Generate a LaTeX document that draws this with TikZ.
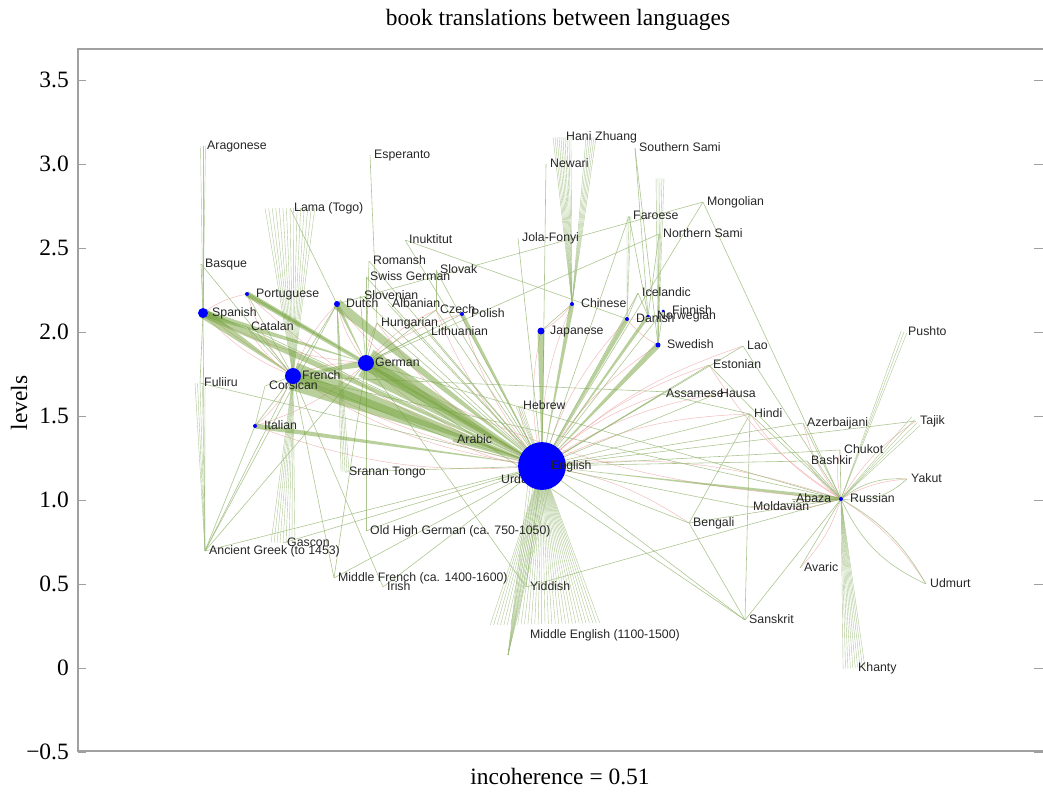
\documentclass[tikz,border=0pt]{standalone}
\usepackage{fontspec}
\setmainfont{Liberation Serif}
\setsansfont{Liberation Sans}
\usetikzlibrary{calc}

\definecolor{LinkGreen}{HTML}{9DBB7C}
\definecolor{BandGreen}{HTML}{74A23C}
\definecolor{BackPink}{HTML}{EFA8A8}
\definecolor{FrameGray}{HTML}{A0A0A0}

\pgfdeclarelayer{edges}
\pgfsetlayers{edges,main}

\tikzset{
	hub/.style={circle, fill=blue, inner sep=0pt, minimum size=#1*0.85pt},
	leaf/.style={circle, inner sep=0pt, minimum size=0pt},
	lbl/.style={anchor=west, inner sep=0pt, text height=7.6pt, text depth=2pt,
		text=black!85, font=\sffamily\fontsize{10.5}{12}\selectfont},
	axlbl/.style={font=\fontsize{20}{22}\selectfont},
	frame/.style={draw=FrameGray, line width=1.4pt},
	link/.style={draw=LinkGreen, line width=0.5pt, opacity=0.85},
	back/.style={draw=BackPink, line width=0.4pt, opacity=0.8},
	fanline/.style={draw=LinkGreen, line width=0.35pt, opacity=0.8},
	band/.style={fill=BandGreen, fill opacity=0.5}
}

% wedge from #1 (half width #3) to the point #2
\newcommand{\tband}[3]{%
	\fill[band] ($(#1)!#3!90:(#2)$) -- ($(#1)!#3!-90:(#2)$) -- (#2.center) -- cycle;}
% bundle of #4 lines, spread #3 (px) at #1, meeting at #2
\newcommand{\tfan}[4]{%
	\foreach \k in {0,...,#4}{%
		\pgfmathsetmacro{\off}{(\k/#4-0.5)*#3*0.85}%
		\draw[fanline] ($(#1)!\off pt!90:(#2)$) -- (#2.center);}}

\begin{document}
\begin{tikzpicture}[x=0.03cm, y=-0.03cm]
	\useasboundingbox (0,0) rectangle (1043,793);
	
	% --- axes
	\draw[frame] (1043,49) -- (78,49) -- (78,751) -- (1043,751);
	\foreach \v/\t [count=\i] in {3.5/3.5, 3.0/3.0, 2.5/2.5, 2.0/2.0, 1.5/1.5, 1.0/1.0, 0.5/0.5, 0/0, -0.5/−0.5}{
		\draw[frame, line width=0.8pt] (78,668-168*\v) -- (86,668-168*\v);
		\draw[frame, line width=0.8pt] (1034,668-168*\v) -- (1043,668-168*\v);
		\node[axlbl, anchor=east, inner sep=0pt] (tick\i) at (69,668-168*\v) {\t};
	}
	\node[axlbl] (title) at (558,20) {book translations between languages};
	\node[axlbl, rotate=90] (ylab) at (19,403) {levels};
	\node[axlbl] (xlab) at (560,777) {incoherence = 0.51};
	
	% --- languages with a dot
	\foreach \n/\x/\y/\d/\t in {
		eng/542/466/48/English, fre/293/376/16/French, ger/366/363/16/German,
		spa/203/313/10/Spanish, por/247/294/4/Portuguese, dut/337/304/6/Dutch,
		ita/255/426/4/Italian, jap/541/331/7/Japanese, chi/572/304/4/Chinese,
		dan/627/319/4/Danish, nor/648/316/3/Norwegian, fin/663/311/3/Finnish,
		swe/658/345/5/Swedish, rus/841/499/4/Russian, pol/462/314/4/Polish}{
		\node[leaf] (\n) at (\x,\y) {};
	}
	
	% --- languages without a dot
	\foreach \n/\x/\y/\t in {
		arag/203/146/Aragonese, espe/370/155/Esperanto, lama/290/208/{Lama (Togo)},
		inuk/405/240/Inuktitut, basq/201/264/Basque, roma/369/261/Romansh,
		slok/436/270/Slovak, swg/366/277/{Swiss German}, slov/360/296/Slovenian,
		alb/388/304/Albanian, cze/436/310/Czech, cat/247/327/Catalan,
		hun/377/323/Hungarian, lit/427/332/Lithuanian, cor/265/386/Corsican,
		ful/200/383/Fuliiru, heb/519/406/Hebrew, ara/453/440/Arabic,
		urd/497/480/Urdu, sra/345/472/{Sranan Tongo},
		ohg/366/531/{Old High German (ca. 750-1050)}, agr/205/551/{Ancient Greek (to 1453)},
		gas/283/543/Gascon, mfr/334/578/{Middle French (ca. 1400-1600)},
		iri/383/587/Irish, yid/526/587/Yiddish, meng/526/635/{Middle English (1100-1500)},
		hani/562/137/Hani, zhu/591/137/Zhuang, newa/546/164/Newari,
		ssami/635/148/{Southern Sami}, mong/703/202/Mongolian, faro/629/216/Faroese,
		nsami/659/234/{Northern Sami}, jola/518/238/Jola-Fonyi, ice/638/293/Icelandic,
		lao/743/346/Lao, esto/709/365/Estonian, push/904/332/Pushto,
		assa/662/394/Assamese, haus/716/394/Hausa, hind/750/414/Hindi,
		azer/803/423/Azerbaijani, taji/916/421/Tajik, chuk/840/450/Chukot,
		bash/807/461/Bashkir, yaku/907/479/Yakut, abaz/792/499/Abaza,
		mold/749/507/Moldavian, beng/689/523/Bengali, avar/800/568/Avaric,
		udmu/926/584/Udmurt, sans/745/620/Sanskrit, khan/854/668/Khanty}{
		\node[leaf] (\n) at (\x,\y) {};
		\node[lbl] (\n-t) at ($(\n)+(4,0)$) {\t};
	}
	\coordinate (meng-fan) at (545,624);
	\coordinate (spike) at (508,655);
	\coordinate (sami-top) at (660,178);
	
	\begin{pgfonlayer}{edges}
	% --- translations against the levels
	\foreach \a/\b in {eng/fre, eng/ger, eng/spa, eng/jap, eng/chi, eng/rus, eng/hind,
		eng/dan, eng/swe, eng/heb, eng/ara, eng/dut, eng/ita, eng/esto, eng/lao,
		eng/assa, eng/beng, eng/pol, rus/abaz, rus/chuk, rus/taji, rus/yaku, rus/udmu,
		rus/avar, rus/mold, rus/bash, rus/azer, rus/ger, rus/esto, fre/spa, fre/ger,
		ger/dut, ger/pol, ger/hun, fre/ita, ger/cze, fre/cat, spa/por, swe/dan,
		nor/dan, chi/jap, eng/haus, rus/hind, fre/por, ger/ita, eng/por, eng/cze,
		ger/spa, eng/hun, fre/dut}{
		\draw[back] (\a) to[bend left=12] (\b);
	}
	
	% --- single translations
	\foreach \a/\b in {basq/spa, basq/fre, cat/spa, cat/eng, cat/fre, ful/eng,
		cor/fre, cor/ita, espe/hun, lama/dut, inuk/dan, inuk/eng, roma/ger,
		roma/eng, swg/ger, swg/eng, slok/cze, slok/eng, slov/eng, slov/ger,
		alb/eng, cze/eng, cze/ger, hun/eng, hun/ger, lit/eng, lit/ger, urd/eng,
		ara/fre, sra/eng, ohg/ger, ohg/eng, agr/eng, agr/fre, agr/ger, agr/spa,
		agr/ita, agr/dut, mfr/fre, mfr/eng, mfr/ger, iri/eng, yid/eng, yid/rus,
		yid/ger, newa/eng, jola/eng, chi/jap, ssami/swe, ssami/nor, mong/rus,
		mong/dut, mong/eng, faro/nor, faro/eng, nsami/ger, nsami/nor, nsami/swe,
		ice/dan, ice/eng, ice/nor, lao/eng, lao/rus, esto/eng, esto/rus,
		assa/eng, assa/hind, haus/eng, haus/fre, hind/eng, hind/rus, beng/eng,
		beng/hind, beng/rus, sans/eng, sans/hind, sans/ger, sans/rus, sans/beng,
		azer/rus, chuk/rus, bash/rus, abaz/rus, mold/rus, avar/rus, mold/eng,
		rus/ger, rus/fre, fin/eng, fin/swe, ita/fre, por/fre, dut/fre, pol/ger,
		taji/eng, bash/eng, azer/eng, chuk/eng, ful/spa, gas/eng, iri/fre}{
		\draw[link] (\a) -- (\b);
	}
	\draw[link] (yaku) to[bend left=25] (rus);
	\draw[link] (yaku) to[bend right=20] (rus);
	\draw[link] (udmu) to[bend left=20] (rus);
	\draw[link] (udmu) to[bend right=15] (rus);
	
	% --- bundles
	\tfan{hani}{chi}{18}{9}
	\tfan{zhu}{chi}{10}{5}
	\tfan{lama}{fre}{50}{14}
	\tfan{gas}{fre}{24}{8}
	\tfan{meng-fan}{eng}{110}{32}
	\tfan{eng}{spike}{24}{8}
	\tfan{khan}{rus}{22}{9}
	\tfan{sra}{dut}{8}{4}
	\tfan{arag}{spa}{5}{2}
	\tfan{ful}{agr}{10}{4}
	\tfan{push}{rus}{6}{2}
	\tfan{taji}{rus}{12}{3}
	\tfan{sami-top}{swe}{8}{4}
	\tfan{faro}{dan}{4}{2}
	\tfan{heb}{eng}{6}{3}
	
	% --- heavy translations
	\tband{fre}{eng}{12pt}
	\tband{ger}{eng}{13pt}
	\tband{fre}{eng}{5pt}
	\tband{ger}{eng}{6pt}
	\tband{spa}{eng}{3.5pt}
	\tband{spa}{fre}{4.5pt}
	\tband{spa}{ger}{3pt}
	\tband{dut}{eng}{4.5pt}
	\tband{por}{eng}{2.5pt}
	\tband{por}{ger}{1.5pt}
	\tband{ita}{eng}{2.2pt}
	\tband{jap}{eng}{3pt}
	\tband{chi}{eng}{2pt}
	\tband{swe}{eng}{2.5pt}
	\tband{dan}{eng}{2pt}
	\tband{nor}{eng}{1.5pt}
	\tband{pol}{eng}{1.5pt}
	\tband{rus}{eng}{1.5pt}
	\tband{ger}{fre}{3pt}
	\tband{dut}{ger}{1.5pt}
	\tband{ara}{eng}{1.5pt}
	\end{pgfonlayer}
	
	% --- dots and names on top
	\foreach \n/\x/\y/\d/\t in {
		eng/542/466/48/English, fre/293/376/16/French, ger/366/363/16/German,
		spa/203/313/10/Spanish, por/247/294/4/Portuguese, dut/337/304/6/Dutch,
		ita/255/426/4/Italian, jap/541/331/7/Japanese, chi/572/304/4/Chinese,
		dan/627/319/4/Danish, nor/648/316/3/Norwegian, fin/663/311/3/Finnish,
		swe/658/345/5/Swedish, rus/841/499/4/Russian, pol/462/314/4/Polish}{
		\node[hub=\d] (\n-dot) at (\n) {};
		\node[lbl] (\n-t) at ($(\n)+(9,0)$) {\t};
	}
\end{tikzpicture}
\end{document}
